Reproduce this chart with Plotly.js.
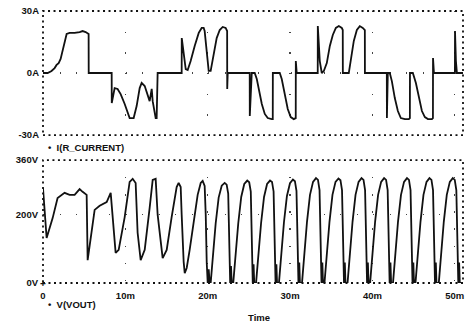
<!DOCTYPE html>
<html>
<head>
<meta charset="utf-8">
<script src="https://cdn.plot.ly/plotly-3.0.1.min.js"></script>
<style>html,body{margin:0;padding:0;background:#fff;}#chart{width:470px;height:326px;}</style>
</head>
<body>
<div id="chart"></div>
<script>
// Time axis values in ms
var tCurrent = [0,0.56,1.04,1.41,1.65,1.90,2.14,2.50,2.87,3.23,3.84,4.45,4.81,5.18,5.42,5.54,5.55,8.34,8.35,8.70,9.06,9.43,9.92,10.28,10.52,11.01,11.37,11.74,11.98,12.35,12.71,12.95,13.20,13.32,13.68,13.80,13.92,16.84,16.85,17.08,17.33,17.57,17.93,18.42,18.91,19.27,19.51,19.63,19.88,20.12,20.36,20.73,21.09,21.46,21.82,22.18,22.36,22.37,22.43,25.10,25.11,25.35,25.71,25.96,26.20,26.57,26.93,27.29,27.78,27.90,27.91,28.75,28.99,29.35,29.72,30.08,30.45,30.69,30.70,30.81,33.36,33.37,33.61,33.85,34.10,34.46,34.83,35.19,35.56,35.92,36.28,36.40,36.41,37.13,37.38,37.74,38.11,38.47,38.83,39.08,39.09,41.75,41.76,41.87,42.11,42.36,42.72,43.09,43.45,43.94,44.42,44.55,44.56,44.91,45.28,45.64,46.01,46.37,46.74,47.22,47.35,47.36,47.47,50.02,50.03,50.14,50.26,51];
var iCurrent = [0,0,1,2.4,3.9,4.8,6.8,13.1,18.9,19.4,19.4,19.8,20.3,19.8,18.9,18.9,0,0,-14.5,-7.3,-7.7,-10.2,-15,-19.4,-21.8,-21.8,-16,-7.3,-4.8,-6.3,-10.6,-13.6,-7.7,-13.6,-21.8,-21.8,0,0,16.9,8.2,1.9,1.5,5.8,13.1,19.4,21.8,21.8,20.3,8.2,1,1,8.2,16.9,20.8,22.3,21.8,20.3,-7.7,0,0,-20.8,0,0,-2.9,-7.7,-15,-19.8,-21.8,-22.3,-22.3,0,0,-2.9,-10.6,-17.4,-21.3,-22.3,-21.8,5.8,0,0,22.7,5.8,0,1,4.8,13.1,18.4,21.8,22.7,21.8,20.8,0,0,7.3,15.5,20.8,22.7,21.8,20.8,0,0,-21.8,0,0,-3.9,-12.1,-18.4,-21.8,-22.3,-22.3,-21.8,0,0,-4.8,-12.1,-18.4,-21.3,-22.3,-22.3,-21.8,7.3,0,0,20.3,5.8,0,0];

var tVolt = [0,0.44,1.17,1.77,2.62,3.23,3.84,4.45,4.81,5.30,5.42,5.91,6.27,6.88,7.73,8.22,8.46,8.82,9.19,9.92,10.52,10.89,11.25,11.49,11.86,12.35,12.95,13.32,13.68,13.92,14.53,15.02,15.62,16.23,16.47,16.72,16.84,16.96,17.08,17.21,17.45,17.81,18.30,18.78,19.15,19.39,19.63,19.76,19.88,20.00,20.12,20.24,
 20.36,20.60,20.97,21.33,21.70,22.06,22.30,22.49,22.61,22.73,22.83,22.91,
 23.10,23.34,23.71,24.07,24.44,24.80,25.04,25.23,25.35,25.47,25.57,25.65,
 25.87,26.11,26.48,26.84,27.21,27.57,27.81,28.00,28.12,28.24,28.34,28.42,
 28.65,28.89,29.26,29.62,29.99,30.35,30.59,30.78,30.90,31.02,31.12,31.20,
 31.45,31.69,32.06,32.42,32.79,33.15,33.39,33.58,33.70,33.82,33.92,34.00,
 34.18,34.42,34.79,35.15,35.52,35.88,36.12,36.31,36.43,36.55,36.65,36.73,
 36.98,37.22,37.59,37.95,38.32,38.68,38.92,39.11,39.23,39.35,39.45,39.53,
 39.72,39.96,40.33,40.69,41.06,41.42,41.66,41.85,41.97,42.09,42.19,42.27,
 42.50,42.74,43.11,43.47,43.84,44.20,44.44,44.63,44.75,44.87,44.97,45.05,
 45.23,45.47,45.84,46.20,46.57,46.93,47.17,47.36,47.48,47.60,47.70,47.78,
 48.06,48.30,48.67,49.03,49.40,49.76,50.00,50.19,50.31,50.43,50.53,50.61,
 51];
var vVolt = [278,132,190,249,264,258,258,275,267,258,67,161,214,226,237,264,193,88,97,193,296,305,293,147,67,97,220,302,305,200,73,97,193,281,293,281,200,110,62,29,44,97,185,258,293,299,284,200,60,0,40,0,
 0,70,175,250,285,293,288,262,120,0,50,0,
 0,70,175,252,290,300,295,268,120,0,55,0,
 0,70,175,252,290,300,296,268,120,0,55,0,
 0,72,178,255,292,303,298,270,120,0,60,0,
 0,72,180,258,296,307,302,272,120,0,60,0,
 0,72,180,258,296,306,301,272,120,0,60,0,
 0,72,180,258,296,307,302,272,120,0,60,0,
 0,72,180,258,296,307,302,272,120,0,60,0,
 0,72,180,258,296,307,302,272,120,0,60,0,
 0,72,180,258,296,307,302,272,120,0,60,0,
 0,72,180,258,296,307,302,272,120,0,60,0,
 0];

var xTickVals = [0,10,20,30,40,50];
var xTickText = ['0','10m','20m','30m','40m','50m'];
var iTickVals = [-30,0,30];
var iTickText = ['-30A','0A','30A'];
var vTickVals = [0,200,360];
var vTickText = ['0V','200V','360V'];
var seriesNames = ['I(R_CURRENT)','V(VOUT)'];
var xTitle = 'Time';

var B = function(a){return a.map(function(s){return '<b>'+s+'</b>';});};
var fnt = {family:'Liberation Sans, Arial, sans-serif', size:9.5, color:'#111'};

var traces = [
  {x:tCurrent, y:iCurrent, xaxis:'x', yaxis:'y', type:'scatter', mode:'lines',
   line:{color:'#111', width:1.8}, hoverinfo:'skip'},
  {x:tVolt, y:vVolt, xaxis:'x2', yaxis:'y2', type:'scatter', mode:'lines',
   line:{color:'#111', width:1.8}, hoverinfo:'skip'}
];

var border = {color:'#111', width:1.8, dash:'2px,3.5px'};
var layout = {
  width:470, height:326,
  margin:{l:43, r:7, t:11, b:43},
  paper_bgcolor:'#fff', plot_bgcolor:'#fff',
  showlegend:false,
  font:fnt,
  xaxis:{domain:[0,1], anchor:'y', range:[0,51], tickvals:xTickVals, showticklabels:false,
    showgrid:true, gridcolor:'#444', gridwidth:1.3, griddash:'1.3px,19.4px', zeroline:false, showline:false, ticks:''},
  yaxis:{domain:[0.544,1], anchor:'x', range:[-30,30], tickvals:iTickVals, ticktext:B(iTickText),
    showgrid:true, gridcolor:'#444', gridwidth:1.3, griddash:'1.3px,15.2px', zeroline:false, showline:false, ticks:'', tickfont:fnt, ticklabelstandoff:3},
  xaxis2:{domain:[0,1], anchor:'y2', range:[0,51], matches:'x', tickvals:xTickVals, ticktext:B(xTickText),
    showgrid:true, gridcolor:'#444', gridwidth:1.3, griddash:'1.3px,15.8px', zeroline:false, showline:false, ticks:'', tickfont:fnt, ticklabelstandoff:5},
  yaxis2:{domain:[0,0.452], anchor:'x2', range:[0,360], tickvals:vTickVals, ticktext:B(vTickText),
    showgrid:true, gridcolor:'#444', gridwidth:1.3, griddash:'1.3px,15.2px', zeroline:false, showline:false, ticks:'', tickfont:fnt, ticklabelstandoff:4},
  shapes:[
    {type:'rect', xref:'x domain', yref:'y domain', x0:0, x1:1, y0:0, y1:1, line:border},
    {type:'rect', xref:'x2 domain', yref:'y2 domain', x0:0, x1:1, y0:0, y1:1, line:border}
  ],
  annotations:[
    {xref:'paper', yref:'paper', x:(46-43)/420, y:(283-147)/272, xanchor:'left', yanchor:'middle',
     text:'<b>•  '+seriesNames[0]+'</b>', showarrow:false, font:fnt},
    {xref:'paper', yref:'paper', x:(46-43)/420, y:(283-304)/272, xanchor:'left', yanchor:'middle',
     text:'<b>•  '+seriesNames[1]+'</b>', showarrow:false, font:fnt},
    {xref:'paper', yref:'paper', x:(259-43)/420, y:(283-317)/272, xanchor:'center', yanchor:'middle',
     text:'<b>'+xTitle+'</b>', showarrow:false, font:fnt},
    {xref:'paper', yref:'paper', x:0, y:0, xanchor:'center', yanchor:'middle',
     text:'<b>+</b>', showarrow:false, font:{family:fnt.family, size:10, color:'#111'}}
  ]
};
Plotly.newPlot('chart', traces, layout, {staticPlot:true, displayModeBar:false});
</script>
</body>
</html>
